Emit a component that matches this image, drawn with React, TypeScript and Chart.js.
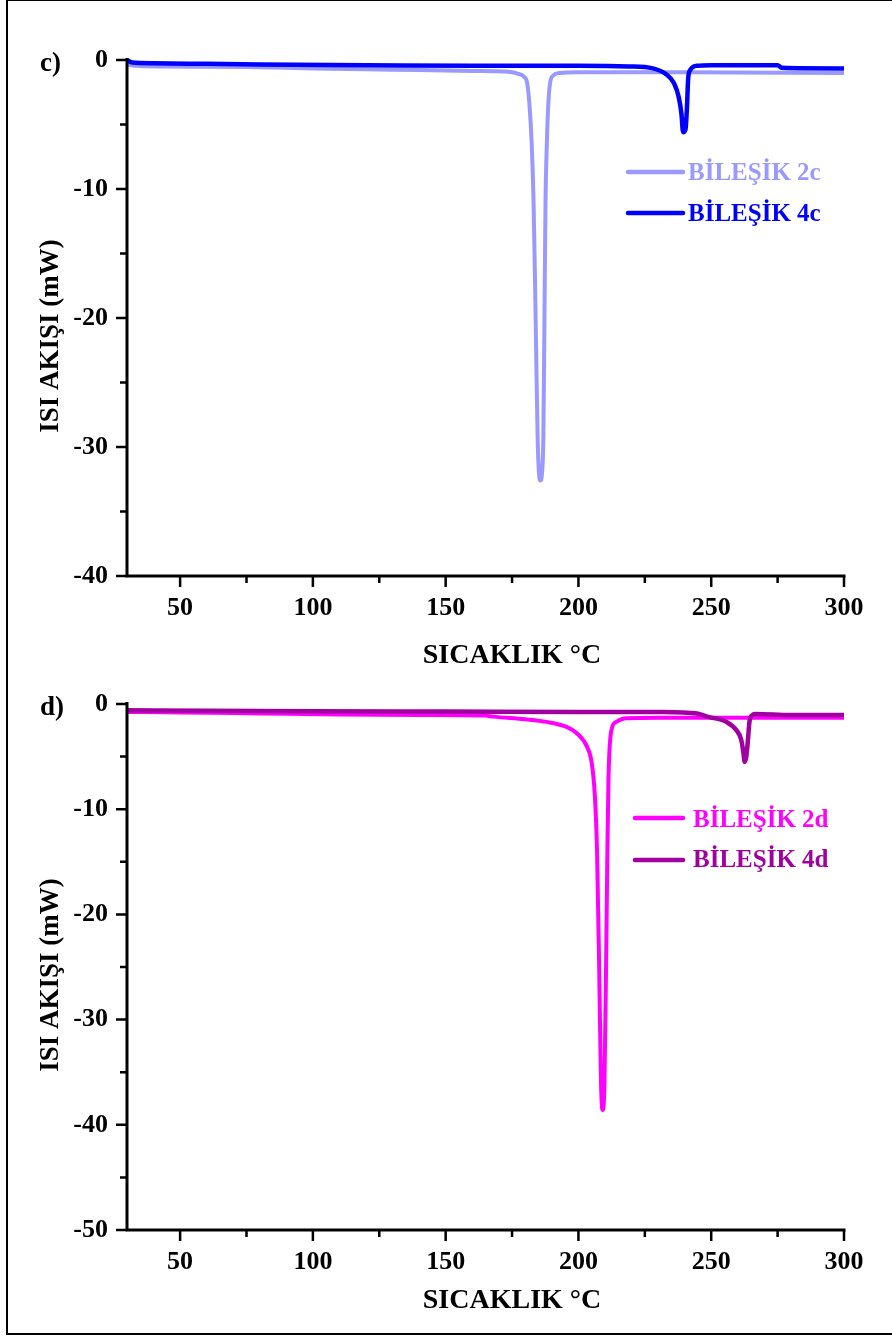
import React, { useEffect, useRef } from "react";
import { Chart, registerables } from "chart.js";

Chart.register(...registerables);

const FONT = '"Liberation Serif", "Times New Roman", serif';

// ---------- Data ----------
// Panel c)
const T_2C = [30, 33, 45, 75, 100, 130, 160, 172, 177, 179.5, 180.7, 181.6, 182.4, 183.1, 183.8, 184.6, 185.2, 185.7, 186.2, 186.8, 187.2, 187.6, 188.1, 188.6, 189.3, 190.5, 193, 200, 240, 300];
const V_2C = [-0.35, -0.45, -0.5, -0.55, -0.65, -0.75, -0.85, -0.9, -1.05, -1.3, -1.8, -3.6, -6.5, -11, -19, -29, -32.2, -32.6, -32.2, -29, -20, -11, -6.5, -3.6, -1.8, -1.2, -1.0, -0.95, -0.95, -1.0];
const T_4C = [30, 32, 40, 60, 80, 120, 160, 200, 219, 228, 233, 236, 237.8, 238.8, 239.4, 240.3, 240.9, 241.3, 242, 244.5, 250, 275, 276.5, 300];
const V_4C = [0, -0.2, -0.25, -0.3, -0.35, -0.4, -0.45, -0.45, -0.5, -0.65, -1.1, -1.8, -2.9, -4.2, -5.6, -5.4, -3.5, -1.5, -0.8, -0.45, -0.4, -0.4, -0.6, -0.65];

// Panel d)
const T_2D = [30, 50, 80, 110, 140, 165, 168, 180, 188, 195.7, 199.5, 203.3, 205, 206.2, 207, 207.8, 208.5, 209.1, 209.8, 210.4, 210.9, 211.3, 212.4, 214.2, 218, 230, 260, 300];
const V_2D = [-0.75, -0.8, -0.9, -1.0, -1.05, -1.1, -1.2, -1.45, -1.7, -2.2, -2.8, -4.1, -5.6, -8.8, -14, -25, -36, -38.6, -36, -25, -14, -7.2, -2.5, -1.7, -1.35, -1.3, -1.3, -1.3];
const T_4D = [30, 60, 100, 150, 200, 232, 244.7, 248.5, 255.7, 259.5, 261.3, 262.1, 262.6, 263.2, 263.8, 264.4, 265.5, 266.5, 280, 300];
const V_4D = [-0.6, -0.65, -0.7, -0.72, -0.75, -0.75, -0.9, -1.2, -1.7, -2.5, -3.4, -4.6, -5.5, -5.0, -3.5, -1.7, -1.05, -0.95, -1.05, -1.05];

// Ticks and labels
const X_MIN = 30;
const X_MAX = 300;
const X_TICKS = [50, 100, 150, 200, 250, 300];
const X_MINOR = [75, 125, 175, 225, 275];
const Y_TICKS_C = [0, -10, -20, -30, -40];
const Y_MINOR_C = [-5, -15, -25, -35];
const Y_TICKS_D = [0, -10, -20, -30, -40, -50];
const Y_MINOR_D = [-5, -15, -25, -35, -45];
const X_TITLE = "SICAKLIK °C";
const Y_TITLE = "ISI AKIŞI (mW)";
const NAMES_C = ["BİLEŞİK 2c", "BİLEŞİK 4c"];
const NAMES_D = ["BİLEŞİK 2d", "BİLEŞİK 4d"];
const COLORS_C = ["#9999FF", "#0000FF"];
const COLORS_D = ["#FF00FF", "#A000A0"];

const toXY = (xs: number[], ys: number[]) => xs.map((x, i) => ({ x, y: ys[i] }));

type Panel = {
  letter: string;
  canvasTop: number;
  areaTop: number;
  areaBottom: number;
  yMin: number;
  yTicks: number[];
  yMinor: number[];
  series: { name: string; color: string; width: number; xs: number[]; ys: number[]; order: number }[];
  legend: { lineX0: number; lineX1: number; textX: number; rows: { lineY: number; baseY: number }[] };
  yTitleCenter: number;
  xTitleBase: number;
  letterBase: number;
};

const W = 892;
const H = 670;
const AREA_LEFT = 127;
const AREA_RIGHT = 844;

const PANELS: Panel[] = [
  {
    letter: "c)",
    canvasTop: 0,
    areaTop: 60,
    areaBottom: 576,
    yMin: -40,
    yTicks: Y_TICKS_C,
    yMinor: Y_MINOR_C,
    series: [
      { name: NAMES_C[0], color: COLORS_C[0], width: 4, xs: T_2C, ys: V_2C, order: 2 },
      { name: NAMES_C[1], color: COLORS_C[1], width: 4.5, xs: T_4C, ys: V_4C, order: 1 },
    ],
    legend: { lineX0: 628, lineX1: 683, textX: 688, rows: [{ lineY: 172, baseY: 180 }, { lineY: 213, baseY: 221 }] },
    yTitleCenter: 336,
    xTitleBase: 663,
    letterBase: 71,
  },
  {
    letter: "d)",
    canvasTop: 670,
    areaTop: 704 - 670,
    areaBottom: 1230 - 670,
    yMin: -50,
    yTicks: Y_TICKS_D,
    yMinor: Y_MINOR_D,
    series: [
      { name: NAMES_D[0], color: COLORS_D[0], width: 4, xs: T_2D, ys: V_2D, order: 2 },
      { name: NAMES_D[1], color: COLORS_D[1], width: 4.5, xs: T_4D, ys: V_4D, order: 1 },
    ],
    legend: { lineX0: 635, lineX1: 683, textX: 693, rows: [{ lineY: 818 - 670, baseY: 827 - 670 }, { lineY: 860 - 670, baseY: 867 - 670 }] },
    yTitleCenter: 975 - 670,
    xTitleBase: 1308 - 670,
    letterBase: 715 - 670,
  },
];

function makeDecor(p: Panel) {
  return {
    id: "decor" + p.letter,
    afterDraw(chart: any) {
      const ctx = chart.ctx as CanvasRenderingContext2D;
      const xs = chart.scales.x;
      const ys = chart.scales.y;
      const a = chart.chartArea;
      ctx.save();
      ctx.strokeStyle = "#000";
      ctx.lineCap = "butt";
      // axes
      ctx.lineWidth = 3;
      ctx.beginPath();
      ctx.moveTo(a.left, a.top - 2);
      ctx.lineTo(a.left, a.bottom + 1.5);
      ctx.moveTo(a.left - 1.5, a.bottom);
      ctx.lineTo(a.right + 1.5, a.bottom);
      ctx.stroke();
      // ticks
      ctx.lineWidth = 2.5;
      ctx.beginPath();
      for (const v of p.yTicks) {
        const py = ys.getPixelForValue(v);
        ctx.moveTo(a.left - 11, py);
        ctx.lineTo(a.left, py);
      }
      for (const v of p.yMinor) {
        const py = ys.getPixelForValue(v);
        ctx.moveTo(a.left - 7, py);
        ctx.lineTo(a.left, py);
      }
      for (const v of X_TICKS) {
        const px = xs.getPixelForValue(v);
        ctx.moveTo(px, a.bottom);
        ctx.lineTo(px, a.bottom + 11);
      }
      for (const v of X_MINOR) {
        const px = xs.getPixelForValue(v);
        ctx.moveTo(px, a.bottom);
        ctx.lineTo(px, a.bottom + 7);
      }
      ctx.stroke();

      // panel letter
      ctx.fillStyle = "#000";
      ctx.font = `bold 27px ${FONT}`;
      ctx.textAlign = "left";
      ctx.textBaseline = "alphabetic";
      ctx.fillText(p.letter, 40, p.letterBase);

      // x title
      ctx.font = `bold 28px ${FONT}`;
      ctx.textAlign = "center";
      ctx.fillText(X_TITLE, 512, p.xTitleBase);

      // y title
      ctx.save();
      ctx.translate(58, p.yTitleCenter);
      ctx.rotate(-Math.PI / 2);
      ctx.font = `bold 27px ${FONT}`;
      ctx.textAlign = "center";
      ctx.fillText(Y_TITLE, 0, 0);
      ctx.restore();

      // legend
      p.series.forEach((s, i) => {
        const r = p.legend.rows[i];
        ctx.strokeStyle = s.color;
        ctx.lineWidth = 4.5;
        ctx.lineCap = "round";
        ctx.beginPath();
        ctx.moveTo(p.legend.lineX0, r.lineY);
        ctx.lineTo(p.legend.lineX1, r.lineY);
        ctx.stroke();
        ctx.fillStyle = s.color;
        ctx.font = `bold 25px ${FONT}`;
        ctx.textAlign = "left";
        ctx.fillText(s.name, p.legend.textX, r.baseY);
      });
      ctx.restore();
    },
  };
}

function PanelChart({ p }: { p: Panel }) {
  const ref = useRef<HTMLCanvasElement | null>(null);
  useEffect(() => {
    if (!ref.current) return;
    const chart = new Chart(ref.current, {
      type: "line",
      data: {
        datasets: p.series.map((s) => ({
          label: s.name,
          data: toXY(s.xs, s.ys),
          borderColor: s.color,
          backgroundColor: s.color,
          borderWidth: s.width,
          pointRadius: 0,
          cubicInterpolationMode: "monotone" as const,
          clip: false as any,
          order: s.order,
        })),
      },
      options: {
        animation: false,
        responsive: false,
        events: [],
        layout: { padding: { left: 0, right: W - AREA_RIGHT, top: p.areaTop, bottom: 0 } },
        plugins: { legend: { display: false }, tooltip: { enabled: false }, title: { display: false } },
        scales: {
          x: {
            type: "linear",
            min: X_MIN,
            max: X_MAX,
            grid: { display: false, drawTicks: true, tickLength: 11 },
            border: { display: false },
            afterBuildTicks: (scale: any) => {
              scale.ticks = X_TICKS.map((v) => ({ value: v }));
            },
            afterFit: (scale: any) => {
              scale.height = H - p.areaBottom;
            },
            ticks: {
              color: "#000",
              padding: 6,
              maxRotation: 0,
              autoSkip: false,
              font: { family: FONT, size: 26, weight: "bold" },
            },
          },
          y: {
            type: "linear",
            min: p.yMin,
            max: 0,
            grid: { display: false, drawTicks: true, tickLength: 11 },
            border: { display: false },
            afterBuildTicks: (scale: any) => {
              scale.ticks = p.yTicks.map((v) => ({ value: v }));
            },
            afterFit: (scale: any) => {
              scale.width = AREA_LEFT;
            },
            ticks: {
              color: "#000",
              padding: 8,
              autoSkip: false,
              font: { family: FONT, size: 26, weight: "bold" },
            },
          },
        },
      },
      plugins: [makeDecor(p)],
    } as any);
    return () => chart.destroy();
  }, [p]);
  return (
    <canvas
      ref={ref}
      width={W}
      height={H}
      style={{ position: "absolute", left: 0, top: p.canvasTop, width: W, height: H }}
    />
  );
}

export default function App() {
  return (
    <div
      style={{
        position: "absolute",
        left: 0,
        top: 0,
        width: 892,
        height: 1340,
        overflow: "hidden",
        background: "#fff",
      }}
    >
      <div
        style={{
          position: "absolute",
          left: 6,
          top: -1,
          width: 910,
          height: 1336,
          border: "2px solid #000",
          boxSizing: "border-box",
        }}
      />
      {PANELS.map((p) => (
        <PanelChart key={p.letter} p={p} />
      ))}
    </div>
  );
}
